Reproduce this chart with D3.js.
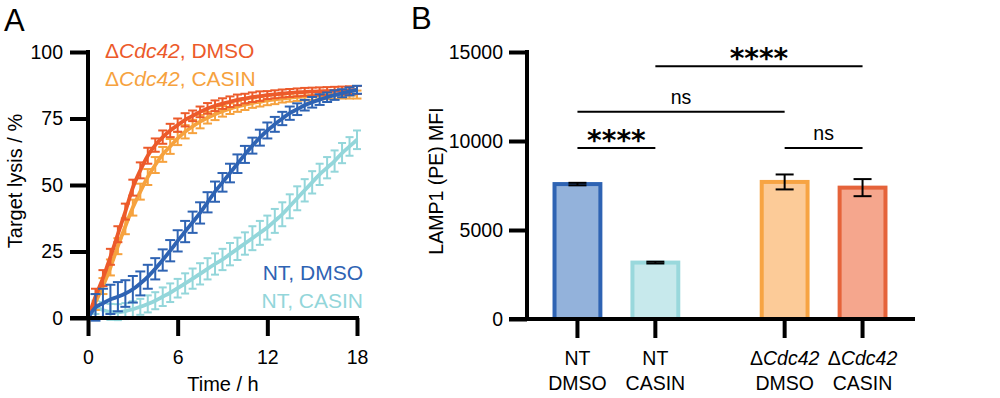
<!DOCTYPE html>
<html>
<head>
<meta charset="utf-8">
<script src="https://cdn.jsdelivr.net/npm/d3@7"></script>
<style>
  html, body { margin: 0; padding: 0; background: #fff; }
  svg { display: block; font-family: "Liberation Sans", Arial, Helvetica, sans-serif; }
</style>
</head>
<body>
<div id="chart"></div>
<script>
// ---- panel A data: target lysis over time (mean, error) ----
const hours = [0, 0.5, 1, 1.5, 2, 2.5, 3, 3.5, 4, 4.5, 5, 5.5, 6, 6.5, 7, 7.5, 8, 8.5, 9,
               9.5, 10, 10.5, 11, 11.5, 12, 12.5, 13, 13.5, 14, 14.5, 15, 15.5, 16, 16.5, 17, 17.5, 18];

const lysisCdcDMSO  = [0, 8, 15, 23, 31.5, 40, 49, 55.5, 61, 65, 68, 70.5, 72.5, 74.5, 76, 77.5, 78.8, 79.8, 80.6,
                       81.3, 82, 82.5, 83, 83.4, 83.8, 84.1, 84.4, 84.6, 84.8, 85, 85.1, 85.2, 85.3, 85.4, 85.5, 85.6, 85.7];
const lysisCdcCASIN = [0, 6, 12, 19, 27, 34.5, 41.5, 47.5, 53, 57.5, 61.5, 64.5, 67.5, 70, 72, 73.8, 75.3, 76.6, 77.7,
                       78.7, 79.5, 80.2, 80.8, 81.3, 81.8, 82.2, 82.5, 82.8, 83.1, 83.3, 83.5, 83.7, 83.8, 83.9, 84, 84, 84];
const lysisNTDMSO   = [0, 4, 5.5, 7, 8, 9.2, 10.8, 13, 15.5, 18.5, 21.8, 25.3, 29, 32.5, 36, 39.5, 43.5, 47.5, 51,
                       54.5, 58, 61.5, 64.8, 67.8, 70.5, 72.8, 75, 77, 78.5, 80, 81.1, 82.1, 83, 83.8, 84.5, 85.2, 85.8];
const lysisNTCASIN  = [0, 4, 3, 2.3, 2.2, 2.6, 3.3, 4.2, 5.3, 6.5, 8, 9.5, 11.2, 13, 14.8, 16.6, 18.5, 20.3, 22,
                       24, 26, 28, 30, 32, 34, 36.5, 39, 42, 45, 48, 51, 54, 56.5, 59, 62, 64.5, 67];

const errCdcDMSO  = [0, 3, 3, 3, 3, 3, 3, 3, 3, 2.5, 2.5, 2.5, 2.5, 2.5, 2, 2, 2, 2, 2,
                     2, 2, 1.8, 1.8, 1.8, 1.5, 1.5, 1.5, 1.5, 1.5, 1.5, 1.5, 1.5, 1.5, 1.5, 1.5, 1.5, 1.5];
const errCdcCASIN = [0, 3, 3, 3, 3, 3, 3, 3, 3, 3, 2.8, 2.8, 2.5, 2.5, 2.5, 2.5, 2.2, 2.2, 2,
                     2, 2, 2, 1.8, 1.8, 1.8, 1.8, 1.5, 1.5, 1.5, 1.5, 1.5, 1.5, 1.5, 1.5, 1.5, 1.5, 1.5];
const errNTDMSO   = [0, 5, 5.5, 5.5, 5.5, 5, 5, 4.5, 4.5, 4, 4, 4, 4, 4, 4, 4, 3.8, 3.8, 3.5,
                     3.5, 3.5, 3.2, 3, 3, 3, 2.8, 2.5, 2.5, 2.2, 2, 2, 2, 1.8, 1.8, 1.5, 1.5, 1.5];
const errNTCASIN  = [0, 2.5, 3, 3, 3, 3, 3, 3, 3.2, 3.2, 3.5, 3.5, 3.5, 3.8, 3.8, 4, 4, 4, 4,
                     4.2, 4.2, 4.2, 4.5, 4.5, 4.5, 4.5, 4.5, 4.5, 4.5, 4.2, 4.2, 4, 4, 4, 3.8, 3.5, 3.5];

const timeTicks  = [0, 6, 12, 18];
const lysisTicks = [0, 25, 50, 75, 100];

// ---- panel B data: LAMP1 MFI ----
const lines      = ["NT", "\u0394Cdc42"];
const treatments = ["DMSO", "CASIN"];
const mfiNT      = [7580, 3170];
const mfiCdc     = [7700, 7380];
const mfiErrNT   = [70, 50];
const mfiErrCdc  = [420, 480];
const mfiTicks   = [0, 5000, 10000, 15000];

// significance brackets: [line, treatment] -> [line, treatment]
const sigFrom   = [["NT", "CASIN"], ["NT", "DMSO"], ["NT", "DMSO"], ["\u0394Cdc42", "DMSO"]];
const sigTo     = [["\u0394Cdc42", "CASIN"], ["\u0394Cdc42", "DMSO"], ["NT", "CASIN"], ["\u0394Cdc42", "CASIN"]];
const sigLabel  = ["****", "ns", "****", "ns"];
const sigLevel  = [14200, 11650, 9600, 9600];

// colours
const cRed = "#EC5A2A", cOrange = "#F6A23E", cBlue = "#2E63B3", cCyan = "#93D6DA";
const barFill   = { NT: ["#93B2DB", "#C7E9EC"], "\u0394Cdc42": ["#FCCB98", "#F5A68D"] };
const barStroke = { NT: ["#2E63B3", "#99D8DC"], "\u0394Cdc42": ["#F7A443", "#E5633A"] };

const W = 1000, H = 398;
const svg = d3.select("#chart").append("svg").attr("width", W).attr("height", H);

const axisW = 4;
const fs = 19.5;

// ===================== Panel A =====================
const xA = d3.scaleLinear().domain([0, 18]).range([88, 357]);
const yA = d3.scaleLinear().domain([0, 100]).range([318, 52]);
const gA = svg.append("g");

gA.append("text").attr("x", 4).attr("y", 31).attr("font-size", 31).text("A");

const seriesA = [
  { v: lysisNTCASIN,  e: errNTCASIN,  c: cCyan,   cap: 8 },
  { v: lysisCdcCASIN, e: errCdcCASIN, c: cOrange, cap: 9 },
  { v: lysisCdcDMSO,  e: errCdcDMSO,  c: cRed,    cap: 9 },
  { v: lysisNTDMSO,   e: errNTDMSO,   c: cBlue,   cap: 10 }
];

const line = d3.line().x((d, i) => xA(hours[i])).y(d => yA(d)).curve(d3.curveMonotoneX);

seriesA.forEach(s => {
  const g = gA.append("g").attr("stroke", s.c).attr("fill", "none");
  hours.forEach((t, i) => {
    if (!s.e[i]) return;
    const x = xA(t), y0 = yA(s.v[i] - s.e[i]), y1 = yA(s.v[i] + s.e[i]);
    g.append("line").attr("x1", x).attr("x2", x).attr("y1", y0).attr("y2", y1).attr("stroke-width", 2);
    g.append("line").attr("x1", x - s.cap / 2).attr("x2", x + s.cap / 2).attr("y1", y0).attr("y2", y0).attr("stroke-width", 2);
    g.append("line").attr("x1", x - s.cap / 2).attr("x2", x + s.cap / 2).attr("y1", y1).attr("y2", y1).attr("stroke-width", 2);
  });
  g.append("path").datum(s.v).attr("d", line).attr("stroke-width", 3.8).attr("stroke-linejoin", "round");
});

// axes A
const axA = gA.append("g").attr("stroke", "#000").attr("stroke-width", axisW);
axA.append("line").attr("x1", xA(0)).attr("x2", xA(0)).attr("y1", yA(100) - 2).attr("y2", yA(0));
axA.append("line").attr("x1", xA(0) - 18).attr("x2", xA(18) + 2).attr("y1", yA(0)).attr("y2", yA(0));

gA.append("g").attr("transform", `translate(${xA(0)},0)`)
  .call(d3.axisLeft(yA).tickValues(lysisTicks).tickSize(18).tickPadding(7))
  .call(g => { g.select(".domain").remove(); g.selectAll("line").attr("stroke-width", axisW); g.selectAll("text").attr("font-size", fs).attr("font-family", null).attr("fill", "#000"); });

gA.append("g").attr("transform", `translate(0,${yA(0)})`)
  .call(d3.axisBottom(xA).tickValues(timeTicks).tickSize(18).tickPadding(14))
  .call(g => { g.select(".domain").remove(); g.selectAll("line").attr("stroke-width", axisW); g.selectAll("text").attr("font-size", fs).attr("font-family", null).attr("fill", "#000"); });

gA.append("text").attr("x", 223).attr("y", 391).attr("text-anchor", "middle").attr("font-size", 20).text("Time / h");
gA.append("text").attr("transform", "translate(22,181) rotate(-90)").attr("text-anchor", "middle").attr("font-size", 20).text("Target lysis / %");

// legend A
function cdcLabel(sel, rest) {
  sel.append("tspan").text("\u0394");
  sel.append("tspan").attr("font-style", "italic").text("Cdc42");
  sel.append("tspan").text(rest);
}
gA.append("text").attr("x", 105).attr("y", 58).attr("font-size", 21).attr("fill", cRed).call(cdcLabel, ", DMSO");
gA.append("text").attr("x", 105).attr("y", 86).attr("font-size", 21).attr("fill", cOrange).call(cdcLabel, ", CASIN");
gA.append("text").attr("x", 363).attr("y", 280).attr("font-size", 21).attr("text-anchor", "end").attr("fill", cBlue).text("NT, DMSO");
gA.append("text").attr("x", 363).attr("y", 308).attr("font-size", 21).attr("text-anchor", "end").attr("fill", cCyan).text("NT, CASIN");

// ===================== Panel B =====================
const yB = d3.scaleLinear().domain([0, 15000]).range([319, 52]);
const xGroup = d3.scaleBand().domain(lines).range([538.5, 901.5]).paddingInner(0.248).paddingOuter(0);
const xInner = d3.scaleBand().domain(treatments).range([0, xGroup.bandwidth()]).paddingInner(0.36).paddingOuter(0.18);
const xc = (ln, tr) => xGroup(ln) + xInner(tr) + xInner.bandwidth() / 2;
const gB = svg.append("g");

gB.append("text").attr("x", 411).attr("y", 29).attr("font-size", 31).text("B");

const barData = [];
lines.forEach((ln, gi) => treatments.forEach((tr, ti) => {
  const v = gi === 0 ? mfiNT[ti] : mfiCdc[ti];
  const e = gi === 0 ? mfiErrNT[ti] : mfiErrCdc[ti];
  barData.push({ ln, tr, ti, v, e });
}));

const bw = xInner.bandwidth();
gB.selectAll("rect.bar").data(barData).enter().append("rect")
  .attr("class", "bar")
  .attr("x", d => xc(d.ln, d.tr) - bw / 2 + 2)
  .attr("width", bw - 4)
  .attr("y", d => yB(d.v))
  .attr("height", d => yB(0) - yB(d.v))
  .attr("fill", d => barFill[d.ln][d.ti])
  .attr("stroke", d => barStroke[d.ln][d.ti])
  .attr("stroke-width", 4);

const eg = gB.append("g").attr("stroke", "#000").attr("stroke-width", 2);
barData.forEach(d => {
  const x = xc(d.ln, d.tr), y0 = yB(d.v - d.e), y1 = yB(d.v + d.e);
  eg.append("line").attr("x1", x).attr("x2", x).attr("y1", y0).attr("y2", y1);
  eg.append("line").attr("x1", x - 9).attr("x2", x + 9).attr("y1", y0).attr("y2", y0);
  eg.append("line").attr("x1", x - 9).attr("x2", x + 9).attr("y1", y1).attr("y2", y1);
});

// axes B
const axB = gB.append("g").attr("stroke", "#000").attr("stroke-width", axisW);
axB.append("line").attr("x1", 527).attr("x2", 527).attr("y1", yB(15000) - 2).attr("y2", yB(0));
axB.append("line").attr("x1", 527 - 18).attr("x2", 915).attr("y1", yB(0)).attr("y2", yB(0));

gB.append("g").attr("transform", "translate(527,0)")
  .call(d3.axisLeft(yB).tickValues(mfiTicks).tickSize(18).tickPadding(6).tickFormat(d3.format("d")))
  .call(g => { g.select(".domain").remove(); g.selectAll("line").attr("stroke-width", axisW); g.selectAll("text").attr("font-size", fs).attr("font-family", null).attr("fill", "#000"); });

const xTickG = gB.append("g").attr("stroke", "#000").attr("stroke-width", axisW);
barData.forEach(d => {
  const x = xc(d.ln, d.tr);
  xTickG.append("line").attr("x1", x).attr("x2", x).attr("y1", yB(0)).attr("y2", yB(0) + 19);
  const t = gB.append("text").attr("x", x).attr("text-anchor", "middle").attr("font-size", 19.5);
  if (d.ln === "NT") {
    t.attr("y", 365).text("NT");
  } else {
    t.attr("y", 365).append("tspan").text("\u0394");
    t.append("tspan").attr("font-style", "italic").text("Cdc42");
  }
  gB.append("text").attr("x", x).attr("y", 390).attr("text-anchor", "middle").attr("font-size", 19.5).text(d.tr);
});

gB.append("text").attr("transform", "translate(443,181) rotate(-90)").attr("text-anchor", "middle").attr("font-size", 19.5).text("LAMP1 (PE) MFI");

// significance
sigLabel.forEach((lab, i) => {
  const x1 = xc(sigFrom[i][0], sigFrom[i][1]), x2 = xc(sigTo[i][0], sigTo[i][1]);
  const y = yB(sigLevel[i]);
  gB.append("line").attr("x1", x1).attr("x2", x2).attr("y1", y).attr("y2", y).attr("stroke", "#000").attr("stroke-width", 2);
  if (lab === "ns") {
    gB.append("text").attr("x", (x1 + x2) / 2).attr("y", y - 8).attr("text-anchor", "middle").attr("font-size", 19.5).text(lab);
  } else {
    gB.append("text").attr("x", (x1 + x2) / 2).attr("y", y + 2).attr("text-anchor", "middle")
      .attr("font-size", 28).attr("font-weight", "bold").attr("font-family", "DejaVu Sans").text(lab);
  }
});
</script>
</body>
</html>
